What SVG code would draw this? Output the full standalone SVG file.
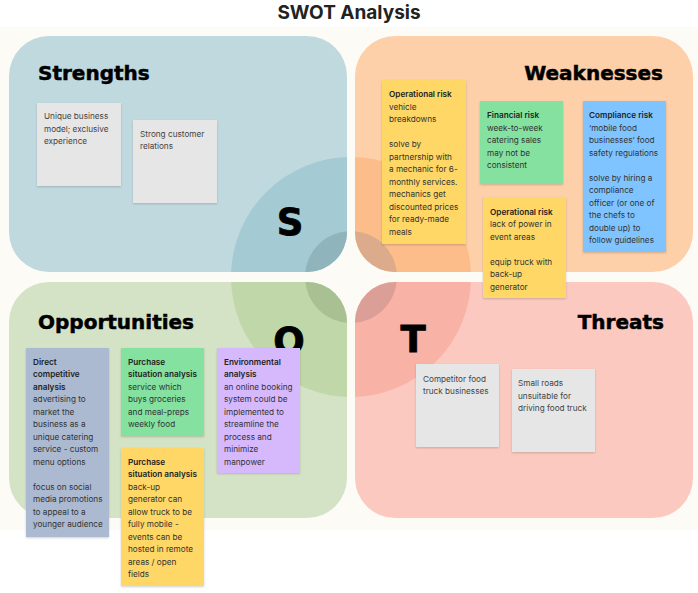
<svg xmlns="http://www.w3.org/2000/svg" width="698" height="593" viewBox="0 0 698 593">
<style>
.title{font-family:Inter,"Liberation Sans",sans-serif;font-weight:700;font-size:19px;fill:#222}
.qt{font-family:"DejaVu Sans","Liberation Sans",sans-serif;font-weight:700;font-size:20px;fill:#000;stroke:#000;stroke-width:0.5}
.big{font-family:"DejaVu Sans","Liberation Sans",sans-serif;font-weight:700;font-size:37px;fill:#000;stroke:#000;stroke-width:0.8}
.note{filter:url(#sh)}
.nt{font-family:Inter,"Liberation Sans",sans-serif;font-size:8.2px;fill:#333}
.g{fill:#444}
.b{font-weight:600;fill:#222}
</style>
<defs>
<filter id="sh" x="-10%" y="-10%" width="120%" height="120%">
<feDropShadow dx="0" dy="1" stdDeviation="1" flood-color="#000" flood-opacity="0.18"/>
</filter>
<clipPath id="cS"><rect x="9" y="36" width="338" height="236" rx="40"/></clipPath>
<clipPath id="cW"><rect x="355" y="36" width="338" height="236" rx="40"/></clipPath>
<clipPath id="cO"><rect x="9" y="282" width="338" height="236" rx="40"/></clipPath>
<clipPath id="cT"><rect x="355" y="282" width="338" height="236" rx="40"/></clipPath>
</defs>
<rect x="0" y="0" width="698" height="593" fill="#ffffff"/>
<rect x="0" y="27" width="698" height="503" fill="#fdfbf6"/>
<text class="title" x="349" y="19" text-anchor="middle">SWOT Analysis</text>

<g id="strengths">
<rect x="9" y="36" width="338" height="236" rx="40" fill="#bfd9df"/>
<g clip-path="url(#cS)">
<circle cx="351" cy="277" r="120" fill="#a4cad3"/>
<circle cx="351" cy="277" r="46" fill="#8fb4bc"/>
</g>
<text class="qt" x="38" y="80">Strengths</text>
<text class="big" x="290" y="235" text-anchor="middle">S</text>
</g>

<g id="weaknesses">
<rect x="355" y="36" width="338" height="236" rx="40" fill="#fdd0aa"/>
<g clip-path="url(#cW)">
<circle cx="351" cy="277" r="120" fill="#fcbd8b"/>
<circle cx="351" cy="277" r="46" fill="#dcab8b"/>
</g>
<text class="qt" x="663" y="80" text-anchor="end">Weaknesses</text>
</g>

<g id="opportunities">
<rect x="9" y="282" width="338" height="236" rx="40" fill="#d4e3c5"/>
<g clip-path="url(#cO)">
<circle cx="351" cy="277" r="120" fill="#c0d8a9"/>
<circle cx="351" cy="277" r="46" fill="#a9c192"/>
</g>
<text class="qt" x="38" y="329">Opportunities</text>
<text class="big" x="289" y="354" text-anchor="middle">O</text>
</g>

<g id="threats">
<rect x="355" y="282" width="338" height="236" rx="40" fill="#fbc9c0"/>
<g clip-path="url(#cT)">
<circle cx="351" cy="277" r="120" fill="#f9b3a6"/>
<circle cx="351" cy="277" r="46" fill="#dc9f97"/>
</g>
<text class="qt" x="664" y="329" text-anchor="end">Threats</text>
<text class="big" x="413" y="352" text-anchor="middle">T</text>
</g>

<g id="s1" class="note"><rect x="37" y="103" width="84" height="83" fill="#e6e6e6"/></g>
<text class="nt g" x="44" y="119"><tspan x="44">Unique business</tspan><tspan x="44" dy="12.5">model; exclusive</tspan><tspan x="44" dy="12.5">experience</tspan></text>

<g id="s2" class="note"><rect x="133" y="120" width="84" height="83" fill="#e6e6e6"/></g>
<text class="nt g" x="140" y="136.5"><tspan x="140">Strong customer</tspan><tspan x="140" dy="12.5">relations</tspan></text>

<g id="w1"><rect class="note" x="382" y="80" width="84" height="164" fill="#fed766"/>
<text class="nt" x="389" y="97"><tspan x="389" class="b">Operational risk</tspan><tspan x="389" dy="12.5">vehicle</tspan><tspan x="389" dy="12.5">breakdowns</tspan><tspan x="389" dy="25">solve by</tspan><tspan x="389" dy="12.5">partnership with</tspan><tspan x="389" dy="12.5">a mechanic for 6-</tspan><tspan x="389" dy="12.5">monthly services.</tspan><tspan x="389" dy="12.5">mechanics get</tspan><tspan x="389" dy="12.5">discounted prices</tspan><tspan x="389" dy="12.5">for ready-made</tspan><tspan x="389" dy="12.5">meals</tspan></text></g>

<g id="w2"><rect class="note" x="480" y="101" width="83" height="83" fill="#84e1a0"/>
<text class="nt" x="487" y="118"><tspan x="487" class="b">Financial risk</tspan><tspan x="487" dy="12.5">week-to-week</tspan><tspan x="487" dy="12.5">catering sales</tspan><tspan x="487" dy="12.5">may not be</tspan><tspan x="487" dy="12.5">consistent</tspan></text></g>

<g id="w3"><rect class="note" x="583" y="101" width="83" height="151" fill="#80c4ff"/>
<text class="nt" x="589" y="118"><tspan x="589" class="b">Compliance risk</tspan><tspan x="589" dy="12.5">‘mobile food</tspan><tspan x="589" dy="12.5">businesses’ food</tspan><tspan x="589" dy="12.5">safety regulations</tspan><tspan x="589" dy="25">solve by hiring a</tspan><tspan x="589" dy="12.5">compliance</tspan><tspan x="589" dy="12.5">officer (or one of</tspan><tspan x="589" dy="12.5">the chefs to</tspan><tspan x="589" dy="12.5">double up) to</tspan><tspan x="589" dy="12.5">follow guidelines</tspan></text></g>

<g id="w4"><rect class="note" x="483" y="197" width="83" height="101" fill="#fed766"/>
<text class="nt" x="490" y="214.5"><tspan x="490" class="b">Operational risk</tspan><tspan x="490" dy="12.5">lack of power in</tspan><tspan x="490" dy="12.5">event areas</tspan><tspan x="490" dy="25">equip truck with</tspan><tspan x="490" dy="12.5">back-up</tspan><tspan x="490" dy="12.5">generator</tspan></text></g>

<g id="o1"><rect class="note" x="26" y="348" width="83" height="189" fill="#abbad1"/>
<text class="nt" x="33" y="364.5"><tspan x="33" class="b">Direct</tspan><tspan x="33" dy="12.5" class="b">competitive</tspan><tspan x="33" dy="12.5" class="b">analysis</tspan><tspan x="33" dy="12.5">advertising to</tspan><tspan x="33" dy="12.5">market the</tspan><tspan x="33" dy="12.5">business as a</tspan><tspan x="33" dy="12.5">unique catering</tspan><tspan x="33" dy="12.5">service - custom</tspan><tspan x="33" dy="12.5">menu options</tspan><tspan x="33" dy="25">focus on social</tspan><tspan x="33" dy="12.5">media promotions</tspan><tspan x="33" dy="12.5">to appeal to a</tspan><tspan x="33" dy="12.5">younger audience</tspan></text></g>

<g id="o2"><rect class="note" x="121" y="348" width="83" height="88" fill="#84e1a0"/>
<text class="nt" x="128" y="364.5"><tspan x="128" class="b">Purchase</tspan><tspan x="128" dy="12.5" class="b">situation analysis</tspan><tspan x="128" dy="12.5">service which</tspan><tspan x="128" dy="12.5">buys groceries</tspan><tspan x="128" dy="12.5">and meal-preps</tspan><tspan x="128" dy="12.5">weekly food</tspan></text></g>

<g id="o3"><rect class="note" x="217" y="348" width="83" height="125" fill="#d6b9fc"/>
<text class="nt" x="224" y="364.5"><tspan x="224" class="b">Environmental</tspan><tspan x="224" dy="12.5" class="b">analysis</tspan><tspan x="224" dy="12.5">an online booking</tspan><tspan x="224" dy="12.5">system could be</tspan><tspan x="224" dy="12.5">implemented to</tspan><tspan x="224" dy="12.5">streamline the</tspan><tspan x="224" dy="12.5">process and</tspan><tspan x="224" dy="12.5">minimize</tspan><tspan x="224" dy="12.5">manpower</tspan></text></g>

<g id="o4"><rect class="note" x="121" y="448" width="83" height="138" fill="#fed766"/>
<text class="nt" x="128" y="464.5"><tspan x="128" class="b">Purchase</tspan><tspan x="128" dy="12.5" class="b">situation analysis</tspan><tspan x="128" dy="12.5">back-up</tspan><tspan x="128" dy="12.5">generator can</tspan><tspan x="128" dy="12.5">allow truck to be</tspan><tspan x="128" dy="12.5">fully mobile -</tspan><tspan x="128" dy="12.5">events can be</tspan><tspan x="128" dy="12.5">hosted in remote</tspan><tspan x="128" dy="12.5">areas / open</tspan><tspan x="128" dy="12.5">fields</tspan></text></g>

<g id="t1"><rect class="note" x="416" y="364" width="83" height="83" fill="#e6e6e6"/>
<text class="nt g" x="423" y="381.5"><tspan x="423">Competitor food</tspan><tspan x="423" dy="12.5">truck businesses</tspan></text></g>

<g id="t2"><rect class="note" x="512" y="369" width="83" height="83" fill="#e6e6e6"/>
<text class="nt g" x="518" y="386"><tspan x="518">Small roads</tspan><tspan x="518" dy="12.5">unsuitable for</tspan><tspan x="518" dy="12.5">driving food truck</tspan></text></g>

<g id="connectors"></g>
</svg>
